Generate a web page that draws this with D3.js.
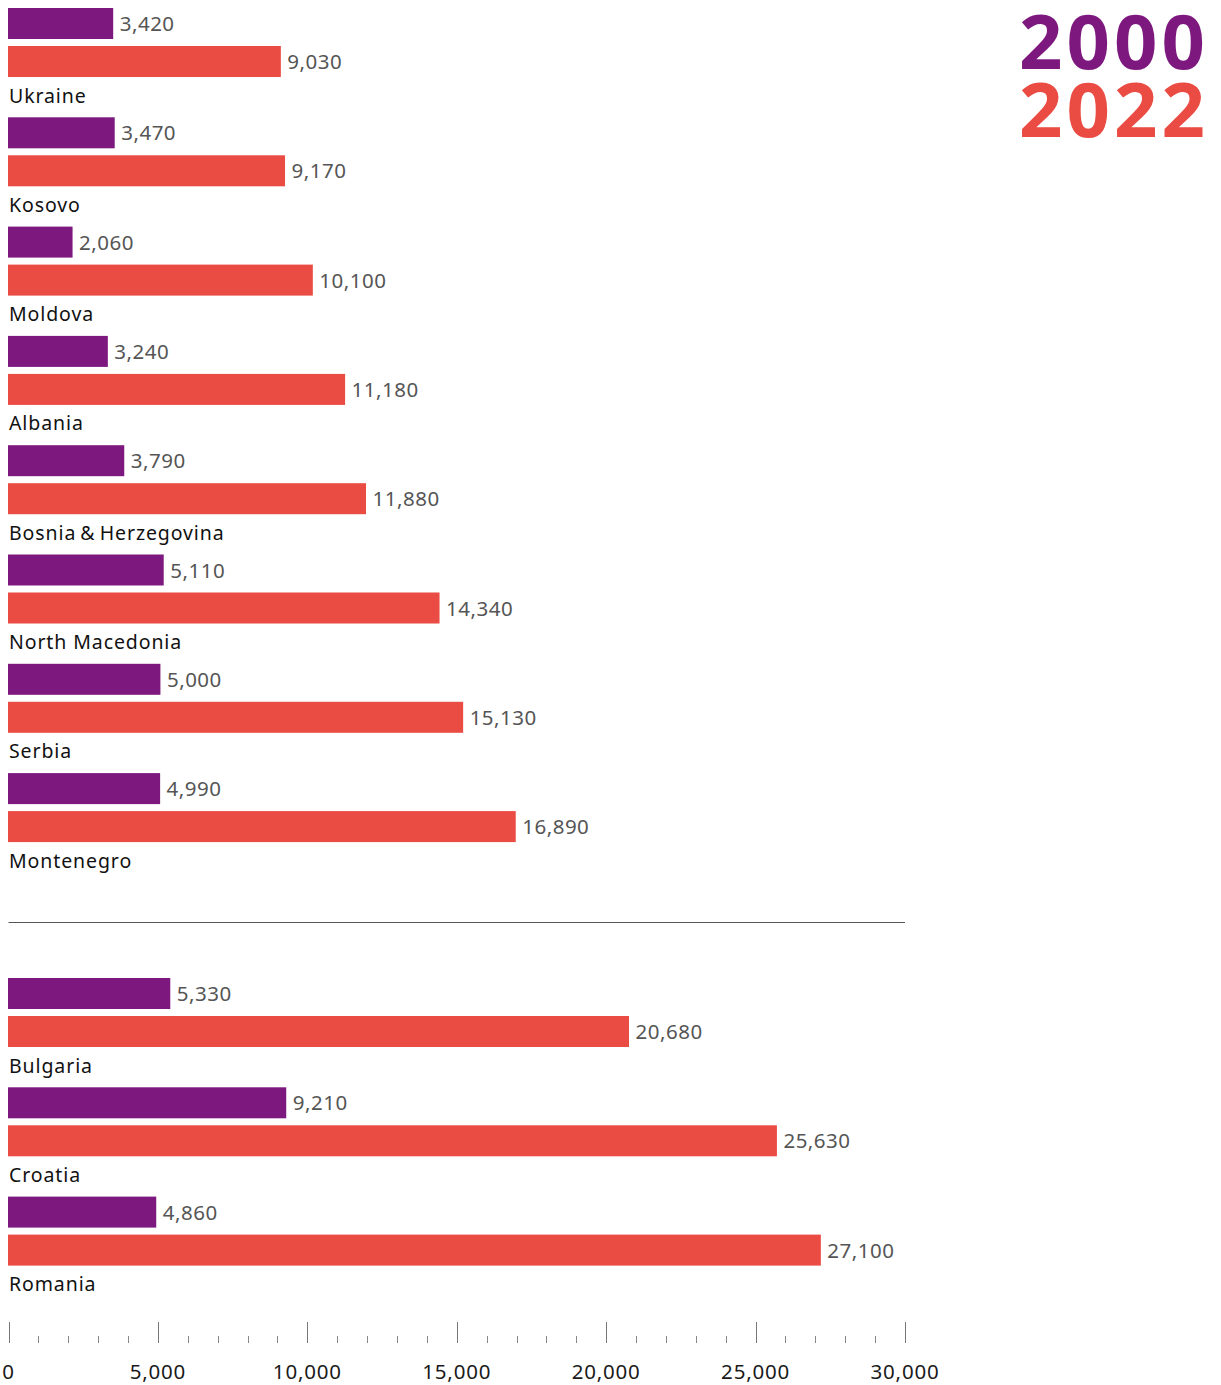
<!DOCTYPE html>
<html>
<head>
<meta charset="utf-8">
<script src="https://cdn.jsdelivr.net/npm/d3@7"></script>
<style>
  html, body { margin: 0; padding: 0; background: #fff; }
  svg { display: block; font-family: "Noto Sans", "DejaVu Sans", sans-serif; }
</style>
</head>
<body>
<svg id="chart" width="1221" height="1385"></svg>
<script>
// Countries, ordered top to bottom; the second block sits below the divider
const countriesTop = ["Ukraine", "Kosovo", "Moldova", "Albania", "Bosnia\u2009&\u2009Herzegovina",
                      "North Macedonia", "Serbia", "Montenegro"];
const countriesBottom = ["Bulgaria", "Croatia", "Romania"];

// Values for the two years, same order as the country lists
const values2000Top = [3420, 3470, 2060, 3240, 3790, 5110, 5000, 4990];
const values2022Top = [9030, 9170, 10100, 11180, 11880, 14340, 15130, 16890];
const values2000Bottom = [5330, 9210, 4860];
const values2022Bottom = [20680, 25630, 27100];

const years = ["2000", "2022"];
const axisTicks = [0, 5000, 10000, 15000, 20000, 25000, 30000];

const colors = { "2000": "#7d187e", "2022": "#ea4b43" };

const svg = d3.select("#chart");
const x = d3.scaleLinear().domain([0, 30000]).range([8.5, 905]);

const groupStep = 109.3;
const yTop = d3.scaleBand().domain(countriesTop)
  .range([8, 8 + groupStep * countriesTop.length]).paddingInner(0).paddingOuter(0);
const yBottom = d3.scaleBand().domain(countriesBottom)
  .range([978, 978 + groupStep * countriesBottom.length]).paddingInner(0).paddingOuter(0);

const barH = 31, barGap = 7;
const fmt = d3.format(",");

function drawBlock(countries, v2000, v2022, y) {
  const rows = countries.map((c, i) => ({ country: c, vals: [v2000[i], v2022[i]] }));
  const g = svg.append("g");
  const row = g.selectAll("g.row").data(rows).join("g")
    .attr("class", "row")
    .attr("transform", d => `translate(0,${y(d.country)})`);

  years.forEach((yr, k) => {
    const top = k * (barH + barGap);
    row.append("rect")
      .attr("x", x(0) - 0.5)
      .attr("y", top)
      .attr("width", d => x(d.vals[k]) - x(0) + 3)
      .attr("height", barH)
      .attr("fill", colors[yr]);
    row.append("text")
      .attr("x", d => x(d.vals[k]) + 9)
      .attr("y", top + barH / 2 + 7.5)
      .attr("font-size", 20.5)
      .attr("letter-spacing", 0.5)
      .attr("fill", "#555")
      .text(d => fmt(d.vals[k]));
  });

  row.append("text")
    .attr("x", 9)
    .attr("y", 2 * barH + barGap + 25.5)
    .attr("font-size", 19.5)
    .attr("letter-spacing", 0.9)
    .attr("fill", "#111")
    .text(d => d.country);
}

drawBlock(countriesTop, values2000Top, values2022Top, yTop);
drawBlock(countriesBottom, values2000Bottom, values2022Bottom, yBottom);

// Divider between the two blocks
svg.append("line")
  .attr("x1", x(0)).attr("x2", x(30000))
  .attr("y1", 922.5).attr("y2", 922.5)
  .attr("stroke", "#555").attr("stroke-width", 1);

// Bottom axis: labelled major ticks every 5,000, minor ticks every 1,000
const axisY = 1343;
const minor = d3.range(0, 30001, 1000).filter(v => v % 5000 !== 0);
const axisG = svg.append("g");
axisG.selectAll("line.minor").data(minor).join("line")
  .attr("class", "minor")
  .attr("x1", d => Math.round(x(d)) + 0.5).attr("x2", d => Math.round(x(d)) + 0.5)
  .attr("y1", axisY - 7).attr("y2", axisY)
  .attr("stroke", "#888").attr("stroke-width", 1);
axisG.selectAll("line.major").data(axisTicks).join("line")
  .attr("class", "major")
  .attr("x1", d => Math.round(x(d)) + 0.5).attr("x2", d => Math.round(x(d)) + 0.5)
  .attr("y1", axisY - 21).attr("y2", axisY)
  .attr("stroke", "#777").attr("stroke-width", 1);
axisG.selectAll("text").data(axisTicks).join("text")
  .attr("x", d => x(d))
  .attr("y", 1379)
  .attr("text-anchor", "middle")
  .attr("font-size", 20.5)
  .attr("letter-spacing", 0.8)
  .attr("fill", "#1a1a1a")
  .text(d => fmt(d));

// Year key, top right: one two-line text block, one line per year
const key = svg.append("text")
  .attr("text-anchor", "end")
  .attr("font-size", 76)
  .attr("font-weight", 700)
  .attr("letter-spacing", 4);
key.selectAll("tspan").data(years).join("tspan")
  .attr("x", 1209)
  .attr("y", (d, i) => 69 + i * 68)
  .attr("fill", d => colors[d])
  .text(d => d);
</script>
</body>
</html>
